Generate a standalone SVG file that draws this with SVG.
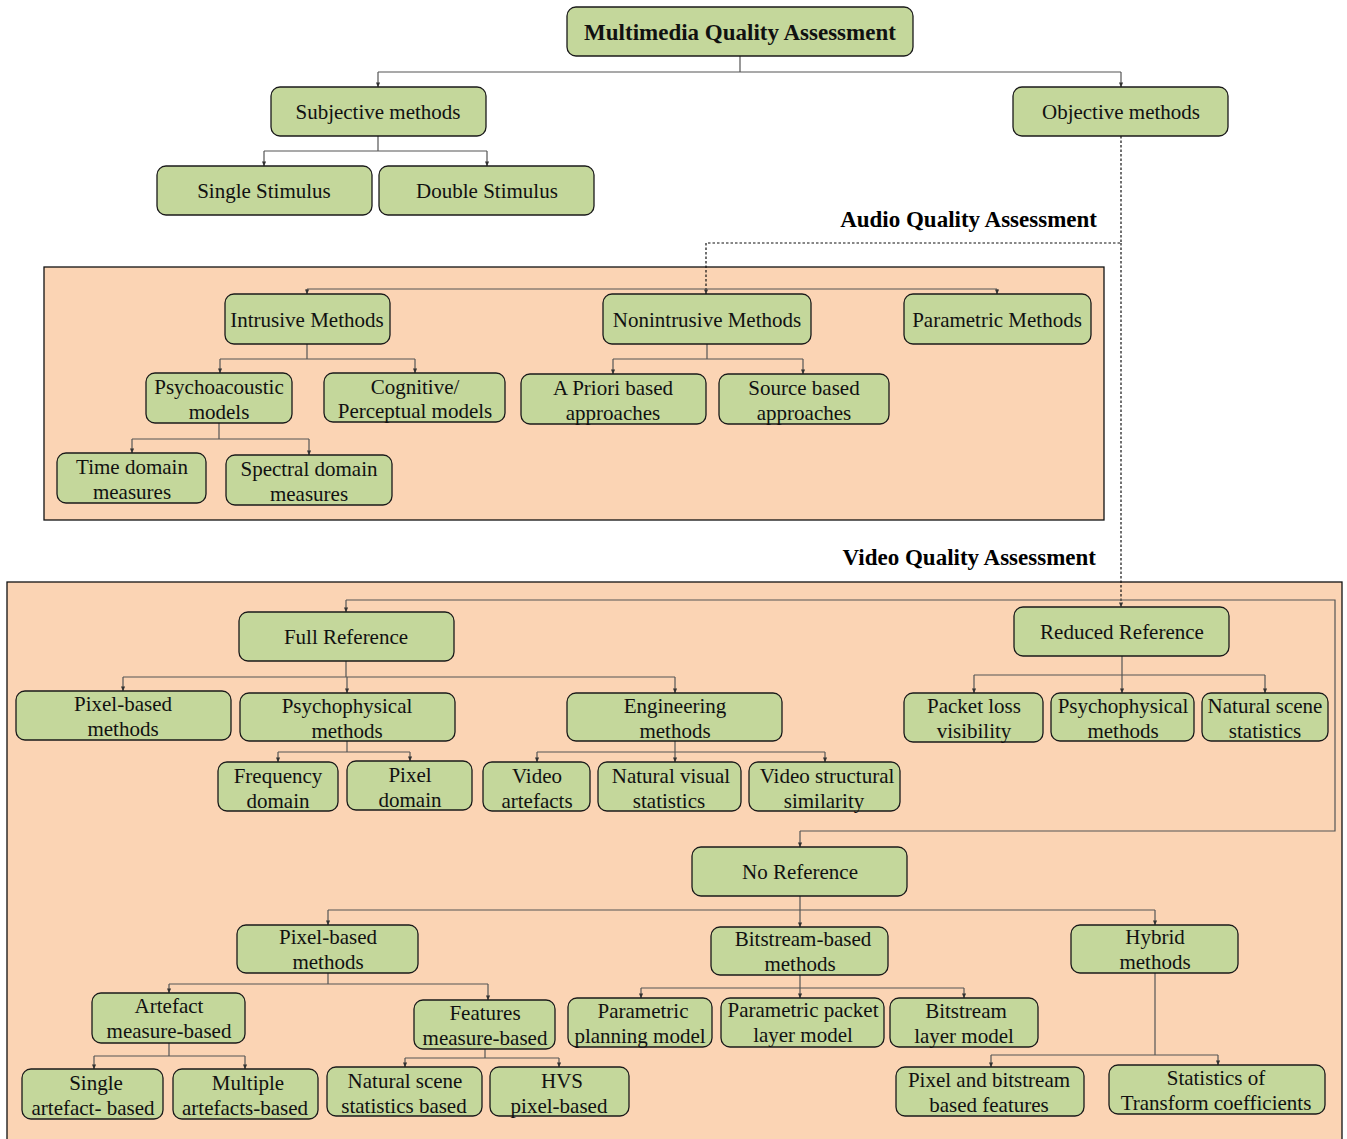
<svg xmlns="http://www.w3.org/2000/svg" width="1347" height="1139" viewBox="0 0 1347 1139">
<style>
.n rect{fill:#C4D79B;stroke:#1a1a1a;stroke-width:1.3}
.n text{font-family:"Liberation Serif","Times New Roman",serif;font-size:21px;fill:#111;text-anchor:middle}
.c{fill:none;stroke:#555;stroke-width:1.2}
.d{fill:none;stroke:#111;stroke-width:1.2;stroke-dasharray:2.5,2}
.h{font-family:"Liberation Serif","Times New Roman",serif;font-size:23px;font-weight:bold;fill:#000;text-anchor:end}
.box{fill:#FBD4B4;stroke:#111;stroke-width:1.3}
</style>
<defs>
<marker id="a" viewBox="0 0 6 6" refX="5.5" refY="3" markerWidth="5" markerHeight="5" orient="auto" markerUnits="userSpaceOnUse">
<path d="M0,0.5 L6,3 L0,5.5 Z" fill="#333"/>
</marker>
</defs>
<rect width="1347" height="1139" fill="#fff"/>
<g id="panels">
<rect class="box" x="44" y="267" width="1060" height="253"/>
<rect class="box" x="7" y="582" width="1335" height="570"/>
<text class="h" x="1097" y="227">Audio Quality Assessment</text>
<text class="h" x="1096" y="565">Video Quality Assessment</text>
</g>
<g id="connectors">
<path class="c" d="M740,56 V72 M378,72 H1121"/>
<path class="c" marker-end="url(#a)" d="M378,72 V87"/>
<path class="c" marker-end="url(#a)" d="M1121,72 V87"/>
<path class="c" d="M378,136 V151 M264,151 H487"/>
<path class="c" marker-end="url(#a)" d="M264,151 V166"/>
<path class="c" marker-end="url(#a)" d="M487,151 V166"/>
<path class="d" d="M1121,136 V243 H706"/>
<path class="d" marker-end="url(#a)" d="M706,243 V294"/>
<path class="d" marker-end="url(#a)" d="M1121,243 V607"/>
<path class="c" d="M307,289 H997"/>
<path class="c" marker-end="url(#a)" d="M307,289 V294"/>
<path class="c" marker-end="url(#a)" d="M997,289 V294"/>
<path class="c" d="M307,344 V359 M220,359 H415"/>
<path class="c" marker-end="url(#a)" d="M220,359 V373"/>
<path class="c" marker-end="url(#a)" d="M415,359 V373"/>
<path class="c" d="M219,423 V439 M132,439 H309"/>
<path class="c" marker-end="url(#a)" d="M132,439 V453"/>
<path class="c" marker-end="url(#a)" d="M309,439 V455"/>
<path class="c" d="M707,344 V359 M613,359 H803"/>
<path class="c" marker-end="url(#a)" d="M613,359 V374"/>
<path class="c" marker-end="url(#a)" d="M803,359 V374"/>
<path class="c" d="M346,600 H1335 V831 H800"/>
<path class="c" marker-end="url(#a)" d="M346,600 V612"/>
<path class="c" marker-end="url(#a)" d="M800,831 V847"/>
<path class="c" d="M346,661 V677 M123,677 H675"/>
<path class="c" marker-end="url(#a)" d="M123,677 V691"/>
<path class="c" marker-end="url(#a)" d="M347,677 V693"/>
<path class="c" marker-end="url(#a)" d="M675,677 V693"/>
<path class="c" d="M347,741 V752 M278,752 H410"/>
<path class="c" marker-end="url(#a)" d="M278,752 V762"/>
<path class="c" marker-end="url(#a)" d="M410,752 V761"/>
<path class="c" d="M675,741 V752 M537,752 H825"/>
<path class="c" marker-end="url(#a)" d="M537,752 V762"/>
<path class="c" marker-end="url(#a)" d="M675,752 V762"/>
<path class="c" marker-end="url(#a)" d="M825,752 V762"/>
<path class="c" d="M1122,656 V675 M974,675 H1265"/>
<path class="c" marker-end="url(#a)" d="M974,675 V693"/>
<path class="c" marker-end="url(#a)" d="M1122,675 V693"/>
<path class="c" marker-end="url(#a)" d="M1265,675 V693"/>
<path class="c" d="M800,896 V910 M328,910 H1155"/>
<path class="c" marker-end="url(#a)" d="M328,910 V925"/>
<path class="c" marker-end="url(#a)" d="M800,910 V927"/>
<path class="c" marker-end="url(#a)" d="M1155,910 V925"/>
<path class="c" d="M328,973 V984 M169,984 H488"/>
<path class="c" marker-end="url(#a)" d="M169,984 V993"/>
<path class="c" marker-end="url(#a)" d="M488,984 V1000"/>
<path class="c" d="M169,1043 V1056 M94,1056 H245"/>
<path class="c" marker-end="url(#a)" d="M94,1056 V1069"/>
<path class="c" marker-end="url(#a)" d="M245,1056 V1069"/>
<path class="c" d="M485,1049 V1058 M405,1058 H559"/>
<path class="c" marker-end="url(#a)" d="M405,1058 V1067"/>
<path class="c" marker-end="url(#a)" d="M559,1058 V1067"/>
<path class="c" d="M800,975 V988 M641,988 H964"/>
<path class="c" marker-end="url(#a)" d="M641,988 V998"/>
<path class="c" marker-end="url(#a)" d="M800,988 V998"/>
<path class="c" marker-end="url(#a)" d="M964,988 V998"/>
<path class="c" d="M1155,973 V1055 M991,1055 H1218"/>
<path class="c" marker-end="url(#a)" d="M991,1055 V1067"/>
<path class="c" marker-end="url(#a)" d="M1218,1055 V1065"/>
</g>
<g id="top" class="n"><rect x="567" y="7" width="346" height="49" rx="9"/><text x="740" y="40" style="font-weight:bold;font-size:23px">Multimedia Quality Assessment</text></g>
<g id="subjective" class="n"><rect x="271" y="87" width="215" height="49" rx="9"/><text x="378" y="119">Subjective methods</text></g>
<g id="objective" class="n"><rect x="1013" y="87" width="215" height="49" rx="9"/><text x="1121" y="119">Objective methods</text></g>
<g id="single-stimulus" class="n"><rect x="157" y="166" width="215" height="49" rx="9"/><text x="264" y="198">Single Stimulus</text></g>
<g id="double-stimulus" class="n"><rect x="379" y="166" width="215" height="49" rx="9"/><text x="487" y="198">Double Stimulus</text></g>
<g id="intrusive" class="n"><rect x="225" y="294" width="165" height="50" rx="9"/><text x="307" y="327">Intrusive Methods</text></g>
<g id="nonintrusive" class="n"><rect x="603" y="294" width="208" height="50" rx="9"/><text x="707" y="327">Nonintrusive Methods</text></g>
<g id="parametric" class="n"><rect x="904" y="294" width="187" height="50" rx="9"/><text x="997" y="327">Parametric Methods</text></g>
<g id="psychoacoustic" class="n"><rect x="146" y="373" width="146" height="50" rx="9"/><text x="219" y="394">Psychoacoustic<tspan x="219" dy="25">models</tspan></text></g>
<g id="cognitive" class="n"><rect x="324" y="373" width="181" height="49" rx="9"/><text x="415" y="394">Cognitive/<tspan x="415" dy="24">Perceptual models</tspan></text></g>
<g id="time-domain" class="n"><rect x="57" y="453" width="149" height="50" rx="9"/><text x="132" y="474">Time domain<tspan x="132" dy="25">measures</tspan></text></g>
<g id="spectral-domain" class="n"><rect x="226" y="455" width="166" height="50" rx="9"/><text x="309" y="476">Spectral domain<tspan x="309" dy="25">measures</tspan></text></g>
<g id="apriori" class="n"><rect x="521" y="374" width="185" height="50" rx="9"/><text x="613" y="395">A Priori based<tspan x="613" dy="25">approaches</tspan></text></g>
<g id="source-based" class="n"><rect x="719" y="374" width="170" height="50" rx="9"/><text x="804" y="395">Source based<tspan x="804" dy="25">approaches</tspan></text></g>
<g id="full-reference" class="n"><rect x="239" y="612" width="215" height="49" rx="9"/><text x="346" y="644">Full Reference</text></g>
<g id="reduced-reference" class="n"><rect x="1014" y="607" width="215" height="49" rx="9"/><text x="1122" y="639">Reduced Reference</text></g>
<g id="fr-pixel" class="n"><rect x="16" y="691" width="215" height="49" rx="9"/><text x="123" y="711">Pixel-based<tspan x="123" dy="25">methods</tspan></text></g>
<g id="fr-psycho" class="n"><rect x="240" y="693" width="215" height="48" rx="9"/><text x="347" y="713">Psychophysical<tspan x="347" dy="25">methods</tspan></text></g>
<g id="fr-engineering" class="n"><rect x="567" y="693" width="215" height="48" rx="9"/><text x="675" y="713">Engineering<tspan x="675" dy="25">methods</tspan></text></g>
<g id="frequency-domain" class="n"><rect x="218" y="762" width="120" height="49" rx="9"/><text x="278" y="783">Frequency<tspan x="278" dy="25">domain</tspan></text></g>
<g id="pixel-domain" class="n"><rect x="347" y="761" width="125" height="49" rx="9"/><text x="410" y="782">Pixel<tspan x="410" dy="25">domain</tspan></text></g>
<g id="video-artefacts" class="n"><rect x="483" y="762" width="107" height="49" rx="9"/><text x="537" y="783">Video<tspan x="537" dy="25">artefacts</tspan></text></g>
<g id="natural-visual" class="n"><rect x="598" y="762" width="143" height="49" rx="9"/><text x="671" y="783">Natural visual<tspan x="669" dy="25">statistics</tspan></text></g>
<g id="video-structural" class="n"><rect x="749" y="762" width="151" height="49" rx="9"/><text x="827" y="783">Video structural<tspan x="824" dy="25">similarity</tspan></text></g>
<g id="packet-loss" class="n"><rect x="904" y="693" width="139" height="49" rx="9"/><text x="974" y="713">Packet loss<tspan x="974" dy="25">visibility</tspan></text></g>
<g id="rr-psycho" class="n"><rect x="1051" y="693" width="143" height="48" rx="9"/><text x="1123" y="713">Psychophysical<tspan x="1123" dy="25">methods</tspan></text></g>
<g id="rr-nss" class="n"><rect x="1202" y="693" width="126" height="48" rx="9"/><text x="1265" y="713">Natural scene<tspan x="1265" dy="25">statistics</tspan></text></g>
<g id="no-reference" class="n"><rect x="692" y="847" width="215" height="49" rx="9"/><text x="800" y="879">No Reference</text></g>
<g id="nr-pixel" class="n"><rect x="237" y="925" width="181" height="48" rx="9"/><text x="328" y="944">Pixel-based<tspan x="328" dy="25">methods</tspan></text></g>
<g id="bitstream-based" class="n"><rect x="711" y="927" width="177" height="48" rx="9"/><text x="803" y="946">Bitstream-based<tspan x="800" dy="25">methods</tspan></text></g>
<g id="hybrid" class="n"><rect x="1071" y="925" width="167" height="48" rx="9"/><text x="1155" y="944">Hybrid<tspan x="1155" dy="25">methods</tspan></text></g>
<g id="artefact-measure" class="n"><rect x="92" y="993" width="153" height="50" rx="9"/><text x="169" y="1013">Artefact<tspan x="169" dy="25">measure-based</tspan></text></g>
<g id="features-measure" class="n"><rect x="414" y="1000" width="141" height="49" rx="9"/><text x="485" y="1020">Features<tspan x="485" dy="25">measure-based</tspan></text></g>
<g id="single-artefact" class="n"><rect x="22" y="1069" width="141" height="50" rx="9"/><text x="96" y="1090">Single<tspan x="93" dy="25">artefact- based</tspan></text></g>
<g id="multiple-artefacts" class="n"><rect x="173" y="1069" width="145" height="50" rx="9"/><text x="248" y="1090">Multiple<tspan x="245" dy="25">artefacts-based</tspan></text></g>
<g id="nss-based" class="n"><rect x="327" y="1067" width="155" height="49" rx="9"/><text x="405" y="1088">Natural scene<tspan x="404" dy="25">statistics based</tspan></text></g>
<g id="hvs" class="n"><rect x="490" y="1067" width="139" height="49" rx="9"/><text x="562" y="1088">HVS<tspan x="559" dy="25">pixel-based</tspan></text></g>
<g id="parametric-planning" class="n"><rect x="568" y="998" width="144" height="49" rx="9"/><text x="643" y="1018">Parametric<tspan x="640" dy="25">planning model</tspan></text></g>
<g id="parametric-packet" class="n"><rect x="721" y="998" width="163" height="49" rx="9"/><text x="803" y="1017">Parametric packet<tspan x="803" dy="25">layer model</tspan></text></g>
<g id="bitstream-layer" class="n"><rect x="890" y="998" width="148" height="49" rx="9"/><text x="966" y="1018">Bitstream<tspan x="964" dy="25">layer model</tspan></text></g>
<g id="pixel-bitstream" class="n"><rect x="896" y="1067" width="188" height="49" rx="9"/><text x="989" y="1087">Pixel and bitstream<tspan x="989" dy="25">based features</tspan></text></g>
<g id="statistics-transform" class="n"><rect x="1109" y="1065" width="216" height="49" rx="9"/><text x="1216" y="1085">Statistics of<tspan x="1216" dy="25">Transform coefficients</tspan></text></g>
</svg>
